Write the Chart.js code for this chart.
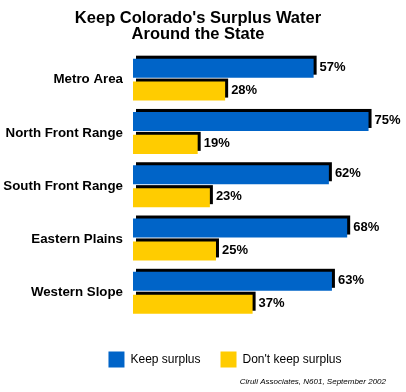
<!DOCTYPE html>
<html lang="en">
<head>
  <meta charset="UTF-8">
  <title>Keep Colorado's Surplus Water Around the State</title>
  <script src="https://cdn.jsdelivr.net/npm/chart.js"></script>
  <style>
    body { margin: 0; background: #fff; }
    canvas { display: block; }
  </style>
</head>
<body>
  <canvas id="waterChart" width="406" height="392"></canvas>

  <script>
    const regions = ['Metro Area', 'North Front Range', 'South Front Range', 'Eastern Plains', 'Western Slope'];
    const keepSurplus = [57, 75, 62, 68, 63];
    const dontKeepSurplus = [28, 19, 23, 25, 37];
    const sourceNote = 'Ciruli Associates, N601, September 2002';

    // black "3d" edge behind each bar, offset up and right
    const barShadow = {
      id: 'barShadow',
      beforeDatasetsDraw(chart) {
        const ctx = chart.ctx;
        ctx.save();
        ctx.fillStyle = '#000';
        chart.data.datasets.forEach((ds, i) => {
          chart.getDatasetMeta(i).data.forEach(bar => {
            const p = bar.getProps(['x', 'y', 'base', 'height']);
            ctx.fillRect(p.base + 3, p.y - p.height / 2 - 3, p.x - p.base, p.height);
          });
        });
        ctx.restore();
      }
    };

    // value labels next to each bar
    const valueLabels = {
      id: 'valueLabels',
      afterDatasetsDraw(chart) {
        const ctx = chart.ctx;
        ctx.save();
        ctx.font = 'bold 13px Arial';
        ctx.fillStyle = '#000';
        ctx.textBaseline = 'middle';
        chart.data.datasets.forEach((ds, i) => {
          chart.getDatasetMeta(i).data.forEach((bar, j) => {
            ctx.fillText(ds.data[j] + '%', bar.x + 6, bar.y - 1);
          });
        });
        ctx.restore();
      }
    };

    // move legend down/right and the source note left, like the original
    const boxShift = {
      id: 'boxShift',
      afterLayout(chart) {
        const lg = chart.legend;
        lg.left += 27;
        lg.right += 27;
        lg.top += 12;
        lg.bottom += 12;
        chart.boxes.forEach(b => {
          if (b !== lg && b.options && b.options.text === sourceNote) {
            b.right -= 10;
          }
        });
      }
    };

    const ctx = document.getElementById('waterChart').getContext('2d');
    const chart = new Chart(ctx, {
      type: 'bar',
      data: {
        labels: regions,
        datasets: [
          {
            label: 'Keep surplus',
            data: keepSurplus,
            backgroundColor: '#0064C8',
            borderWidth: 0,
            base: -2.2
          },
          {
            label: "Don't keep surplus",
            data: dontKeepSurplus,
            backgroundColor: '#FFCC00',
            borderWidth: 0,
            base: -2.2
          }
        ]
      },
      options: {
        indexAxis: 'y',
        responsive: false,
        animation: false,
        categoryPercentage: 0.86,
        barPercentage: 0.83,
        layout: { padding: { left: 0, right: 10, top: 0, bottom: 2 } },
        scales: {
          x: {
            display: false,
            min: -2.2,
            max: 84
          },
          y: {
            grid: { display: false, drawTicks: false },
            border: { display: false },
            afterFit(scale) { scale.width = 133; },
            ticks: {
              color: '#000',
              padding: 10,
              font: { family: 'Arial', size: 13.3, weight: 'bold' }
            }
          }
        },
        plugins: {
          title: {
            display: true,
            text: ["Keep Colorado's Surplus Water", 'Around the State'],
            color: '#000',
            font: { family: 'Arial', size: 16.5, weight: 'bold', lineHeight: 1.0 },
            padding: { top: 10, bottom: 10 }
          },
          subtitle: {
            display: true,
            position: 'bottom',
            align: 'end',
            text: sourceNote,
            color: '#000',
            font: { family: 'Arial', size: 8, style: 'italic' },
            padding: { top: 12, bottom: 3 }
          },
          legend: {
            position: 'bottom',
            labels: {
              color: '#000',
              boxWidth: 16,
              boxHeight: 16,
              padding: 20,
              font: { family: 'Arial', size: 12 }
            }
          },
          tooltip: { enabled: false }
        }
      },
      plugins: [barShadow, valueLabels, boxShift]
    });
  </script>
</body>
</html>
